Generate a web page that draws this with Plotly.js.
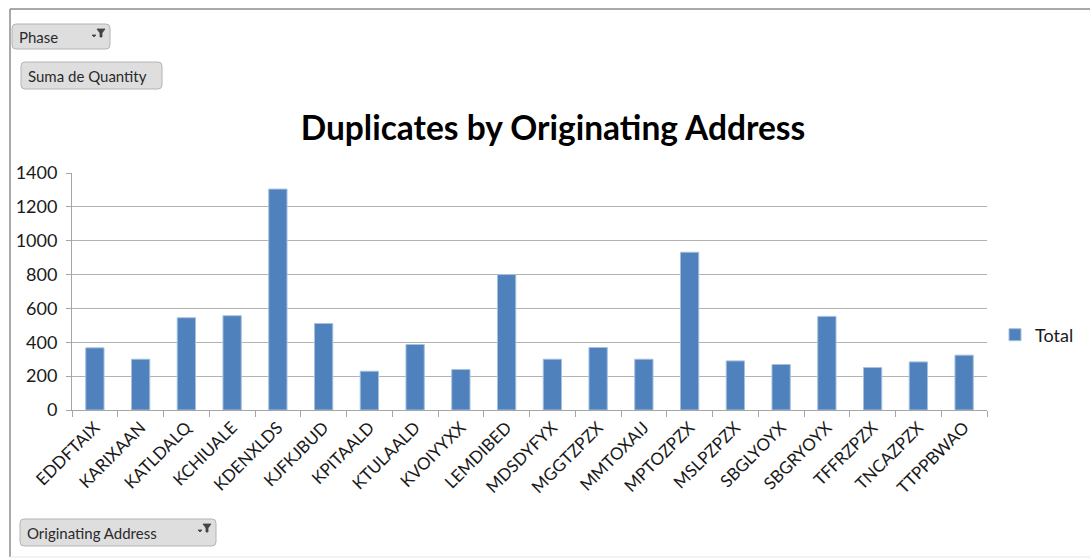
<!DOCTYPE html>
<html>
<head>
<meta charset="utf-8">
<script src="https://cdn.plot.ly/plotly-3.0.1.min.js"></script>
<style>
html,body{margin:0;padding:0;background:#fff;}
#chart{width:1090px;height:558px;}
</style>
</head>
<body>
<div id="chart"></div>
<script>
const categories = ["EDDFTAIX","KARIXAAN","KATLDALQ","KCHIUALE","KDENXLDS","KJFKJBUD","KPITAALD","KTULAALD","KVOIYYXX","LEMDIBED","MDSDYFYX","MGGTZPZX","MMTOXAIJ","MPTOZPZX","MSLPZPZX","SBGLYOYX","SBGRYOYX","TFFRZPZX","TNCAZPZX","TTPPBWAO"];
const totals = [367, 300, 545, 557, 1305, 511, 229, 387, 239, 800, 300, 369, 300, 932, 290, 269, 553, 251, 284, 324];
const seriesName = "Total";
const yTicks = [0, 200, 400, 600, 800, 1000, 1200, 1400];
const chartTitle = "Duplicates by Originating Address";
const buttonLabels = ["Phase", "Suma de Quantity", "Originating Address"];

const W = 1090, Hh = 558;
const L = 72, R = 987, T = 173, B = 410;
const PW = R - L, PH = B - T;
const px = x => (x - L) / PW;
const py = y => (B - y) / PH;
const FONT = 'Lato, "Open Sans", sans-serif';

function roundRect(x0, y0, x1, y1, r) {
  const a = px(x0), b = px(x1), c = py(y0), d = py(y1);
  const rx = r / PW, ry = r / PH;
  return `M ${a+rx},${c} L ${b-rx},${c} Q ${b},${c} ${b},${c-ry} L ${b},${d+ry} Q ${b},${d} ${b-rx},${d} L ${a+rx},${d} Q ${a},${d} ${a},${d+ry} L ${a},${c-ry} Q ${a},${c} ${a+rx},${c} Z`;
}
function funnel(cx, cy) {
  const f = `M ${px(cx-4)},${py(cy-5)} L ${px(cx+4)},${py(cy-5)} L ${px(cx+1)},${py(cy-1)} L ${px(cx+1)},${py(cy+3)} L ${px(cx-1)},${py(cy+3)} L ${px(cx-1)},${py(cy-1)} Z`;
  const d = `M ${px(cx-9)},${py(cy+1)} L ${px(cx-5)},${py(cy+1)} L ${px(cx-7)},${py(cy+3)} Z`;
  return [f, d];
}

const buttons = [
  {x0: 12, y0: 24, x1: 110, y1: 49, label: buttonLabels[0], filter: true},
  {x0: 21, y0: 62, x1: 162, y1: 89, label: buttonLabels[1], filter: false},
  {x0: 20, y0: 519, x1: 216, y1: 546, label: buttonLabels[2], filter: true}
];

const shapes = [
  {type: 'line', xref: 'paper', yref: 'paper', x0: px(10), x1: px(10), y0: py(9), y1: py(557), line: {color: '#8c8c8c', width: 1.5}},
  {type: 'line', xref: 'paper', yref: 'paper', x0: px(10), x1: px(1090), y0: py(9), y1: py(9), line: {color: '#8c8c8c', width: 1.5}},
  {type: 'line', xref: 'paper', yref: 'paper', x0: px(10), x1: px(1090), y0: py(557), y1: py(557), line: {color: '#e6e6e6', width: 1}}
];
const annotations = [];
buttons.forEach(bt => {
  shapes.push({type: 'path', xref: 'paper', yref: 'paper', path: roundRect(bt.x0, bt.y0, bt.x1, bt.y1, 4),
    fillcolor: '#dedede', line: {color: '#b4b4b4', width: 1}, layer: 'above'});
  annotations.push({xref: 'paper', yref: 'paper', x: px(bt.x0 + 5), y: py((bt.y0 + bt.y1) / 2),
    xanchor: 'left', yanchor: 'middle', showarrow: false, text: bt.label,
    font: {family: FONT, size: 15, color: '#2a2a2a'}});
  if (bt.filter) {
    funnel(bt.x1 - 9, bt.y0 + 10).forEach(p => shapes.push({type: 'path', xref: 'paper', yref: 'paper', path: p,
      fillcolor: '#444', line: {color: '#444', width: 0.8}, layer: 'above'}));
  }
});

const trace = {
  type: 'bar', x: categories, y: totals, name: seriesName,
  marker: {color: '#4f81bd', line: {color: '#a7c0de', width: 1}},
  hoverinfo: 'x+y'
};

const layout = {
  width: W, height: Hh,
  margin: {l: L, r: W - R, t: T, b: Hh - B, pad: 0, autoexpand: false},
  paper_bgcolor: '#ffffff', plot_bgcolor: '#ffffff',
  title: {text: '<b>' + chartTitle + '</b>', x: px(553), xanchor: 'center', xref: 'paper',
    y: 1 - 128 / Hh, yanchor: 'middle',
    font: {family: FONT, size: 33.5, color: '#000'}},
  bargap: 0.6,
  showlegend: true,
  legend: {x: px(995), y: py(335), xanchor: 'left', yanchor: 'middle',
    font: {family: FONT, size: 18, color: '#1a1a1a'},
    itemwidth: 30, bgcolor: 'rgba(0,0,0,0)'},
  xaxis: {
    type: 'category', tickangle: -45, tickson: 'boundaries', ticks: 'outside', ticklen: 6,
    tickcolor: '#a6a6a6', showline: true, linecolor: '#a6a6a6', linewidth: 1,
    showgrid: false, automargin: false,
    tickfont: {family: FONT, size: 17, color: '#1a1a1a'}
  },
  yaxis: {
    range: [0, 1400], tickvals: yTicks, ticktext: yTicks.map(String),
    showline: true, linecolor: '#a6a6a6', ticks: 'outside', ticklen: 5, tickcolor: '#a6a6a6',
    ticklabelstandoff: 5,
    showgrid: true, gridcolor: '#b3b3b3', gridwidth: 1, zeroline: false, automargin: false,
    tickfont: {family: FONT, size: 18, color: '#1a1a1a'}
  },
  shapes: shapes,
  annotations: annotations
};

Plotly.newPlot('chart', [trace], layout, {displayModeBar: false, staticPlot: true});
</script>
</body>
</html>
